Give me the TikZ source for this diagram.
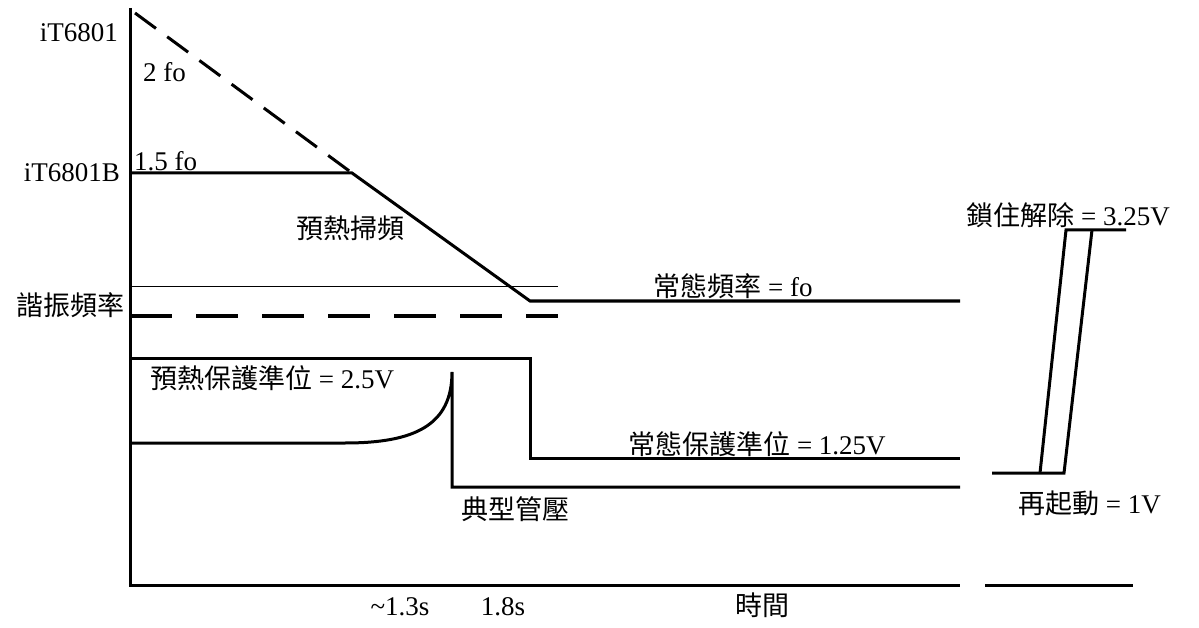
\documentclass[tikz,border=0pt]{standalone}
\usepackage{fontspec}
\setmainfont{Liberation Serif}
\newfontfamily\cjk{Noto Sans CJK TC}
\begin{document}
\begin{tikzpicture}[x=1pt,y=-1pt,
  lbl/.style={inner sep=0pt, font=\fontsize{27}{30}\selectfont},
  trace/.style={line width=3pt},
  thinline/.style={line width=1pt}]
\useasboundingbox (0,0) rectangle (1199,628);
% axes
\draw[trace] (130,8) -- (130,585) -- (960,585);
\draw[trace] (985,585) -- (1133,585);
% frequency sweep
\draw[trace, dash pattern=on 26pt off 14pt] (135,13) -- (352,173);
\draw[trace] (130,173) -- (352,173) -- (530,301) -- (960,301);
\draw[thinline] (130,287) -- (558,287);
\draw[line width=3.5pt, dash pattern=on 42pt off 24pt] (130,316) -- (558,316);
% protection level
\draw[trace] (130,358) -- (530,358) -- (530,458) -- (960,458);
% lamp voltage
\draw[trace] (130,443) -- (345,443) .. controls (415,443) and (452,425) .. (452,372) -- (452,487) -- (960,487);
% restart / unlock
\draw[trace] (992,473) -- (1064,473) -- (1092,230);
\draw[trace] (1040,473) -- (1066,230) -- (1126,230);
% labels
\node[lbl, anchor=east] (a1) at (118,33) {iT6801};
\node[lbl, anchor=west] (a2) at (143,72) {2 fo};
\node[lbl, anchor=south west] (a3) at (134,171) {1.5 fo};
\node[lbl, anchor=east] (a4) at (120,173) {iT6801B};
\node[lbl] (a5) at (350,228) {{\cjk 預熱掃頻}};
\node[lbl, anchor=east] (a6) at (125,305) {{\cjk 諧振頻率}};
\node[lbl, anchor=south] (a7) at (733,299) {{\cjk 常態頻率} = fo};
\node[lbl, anchor=west] (a8) at (150,378) {{\cjk 預熱保護準位} = 2.5V};
\node[lbl, anchor=south] (a9) at (757,457) {{\cjk 常態保護準位} = 1.25V};
\node[lbl] (a10) at (515,509) {{\cjk 典型管壓}};
\node[lbl, anchor=south] (a11) at (1068,228) {{\cjk 鎖住解除} = 3.25V};
\node[lbl, anchor=west] (a12) at (1018,503) {{\cjk 再起動} = 1V};
\node[lbl] (a13) at (400,607) {\textasciitilde 1.3s};
\node[lbl] (a14) at (503,607) {1.8s};
\node[lbl] (a15) at (762,605) {{\cjk 時間}};
\end{tikzpicture}
\end{document}
